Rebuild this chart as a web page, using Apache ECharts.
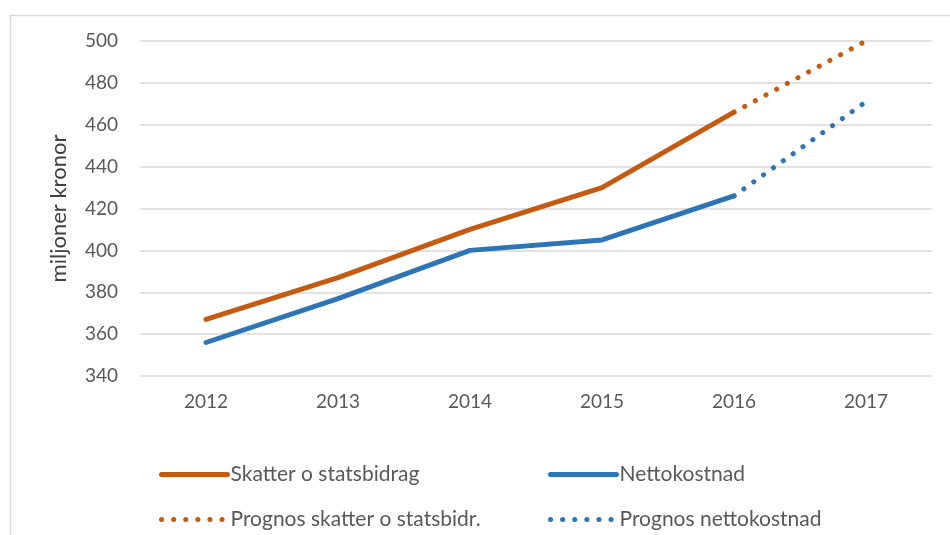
<!DOCTYPE html>
<html>
<head>
<meta charset="utf-8">
<script src="https://cdn.jsdelivr.net/npm/echarts@6/dist/echarts.min.js"></script>
<style>
    html, body { margin: 0; padding: 0; background: #fff; }
    #chart { width: 950px; height: 535px; }
</style>
</head>
<body>
<div id="chart"></div>
<script>
// kategorier (år)
var years = ['2012', '2013', '2014', '2015', '2016', '2017'];

// faktiska värden, miljoner kronor
var skatter = [367, 387, 410, 430, 466, null];
var netto = [356, 377, 400, 405, 426, null];

// prognoser 2016 -> 2017
var prognosSkatter = [null, null, null, null, 466, 500];
var prognosNetto = [null, null, null, null, 426, 471];

var ORANGE = '#c55a11',
    BLUE = '#2e75b6',
    FONT = 'Lato, "Open Sans", sans-serif';

var chart = echarts.init(document.getElementById('chart'));

// ett linjeserie-objekt
function line(name, data, color, dotted) {
    return {
        name: name,
        type: 'line',
        data: data,
        showSymbol: false,
        symbol: 'none',
        connectNulls: false,
        animation: false,
        lineStyle: {
            color: color,
            width: 5,
            cap: 'round',
            join: 'round',
            type: dotted ? [0.1, 12] : 'solid'
        },
        itemStyle: { color: color }
    };
}

function legend(left, names) {
    return {
        left: left,
        top: 459,
        orient: 'vertical',
        itemGap: 24,
        itemWidth: 66,
        itemHeight: 8,
        data: names,
        selectedMode: false,
        itemStyle: { opacity: 0 },     // ingen cirkel mitt i ikonen
        lineStyle: { width: 5, cap: 'round' },
        textStyle: { color: '#595959', fontSize: 21, fontFamily: FONT, padding: [0, 0, 0, -2] }
    };
}

chart.setOption({
    backgroundColor: '#fff',
    animation: false,
    graphic: [{
        type: 'rect',
        left: 8,
        top: 13,
        shape: { width: 980, height: 560 },
        style: { fill: 'none', stroke: '#d9d9d9', lineWidth: 1.5 },
        silent: true
    }],
    grid: { left: 140, right: 18, top: 41, bottom: 159 },
    legend: [
        legend(154, ['Skatter o statsbidrag', 'Prognos skatter o statsbidr.']),
        legend(543, ['Nettokostnad', 'Prognos nettokostnad'])
    ],
    xAxis: {
        type: 'category',
        data: years,
        boundaryGap: true,
        axisLine: { show: false },
        axisTick: { show: false },
        axisLabel: { color: '#595959', fontSize: 19, fontFamily: FONT, margin: 16 }
    },
    yAxis: {
        type: 'value',
        min: 340,
        max: 500,
        interval: 20,
        name: 'miljoner kronor',
        nameLocation: 'middle',
        nameGap: 70,
        nameTextStyle: { color: '#404040', fontSize: 22, fontFamily: FONT },
        axisLine: { show: false },
        axisTick: { show: false },
        axisLabel: { color: '#595959', fontSize: 19, fontFamily: FONT, margin: 22 },
        splitLine: { lineStyle: { color: '#d9d9d9', width: 1.5 } }
    },
    series: [
        line('Skatter o statsbidrag', skatter, ORANGE, false),
        line('Nettokostnad', netto, BLUE, false),
        line('Prognos skatter o statsbidr.', prognosSkatter, ORANGE, true),
        line('Prognos nettokostnad', prognosNetto, BLUE, true)
    ]
});
</script>
</body>
</html>
